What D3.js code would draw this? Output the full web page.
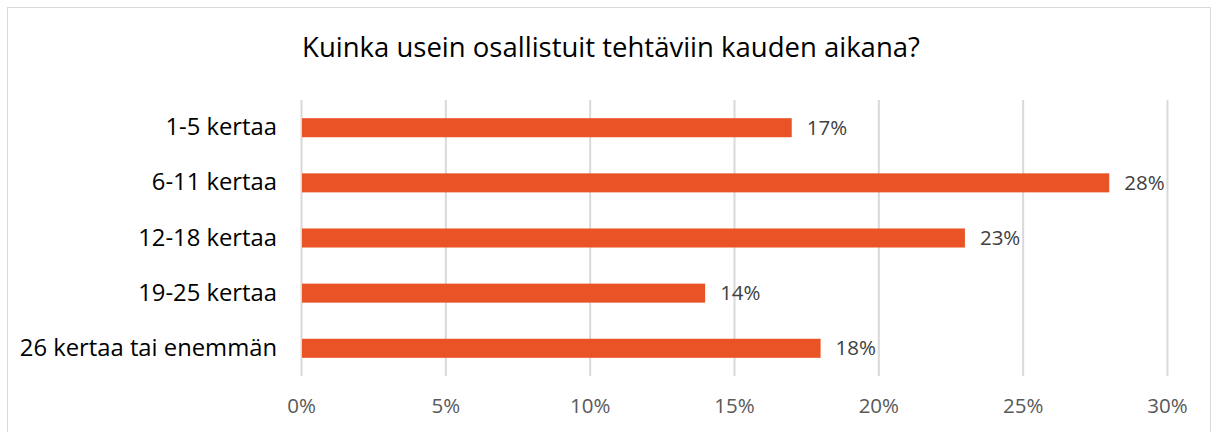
<!DOCTYPE html>
<html>
<head>
<meta charset="utf-8">
<script src="https://cdn.jsdelivr.net/npm/d3@7"></script>
<style>
  body { margin: 0; background: #fff; }
  svg { display: block; }
</style>
</head>
<body>
<div id="chart"></div>
<script>
// Chart data
const categories = ['1-5 kertaa', '6-11 kertaa', '12-18 kertaa', '19-25 kertaa', '26 kertaa tai enemmän'];
const values = [17, 28, 23, 14, 18];
const ticks = [0, 5, 10, 15, 20, 25, 30];
const title = 'Kuinka usein osallistuit tehtäviin kauden aikana?';

const width = 1213;
const height = 432;
const margin = { top: 100, right: 46, bottom: 56, left: 301 };

const svg = d3.select('#chart')
    .append('svg')
    .attr('width', width)
    .attr('height', height);

// outer chart border
svg.append('rect')
    .attr('x', 7.5)
    .attr('y', 7.5)
    .attr('width', width - 10)
    .attr('height', height)
    .attr('fill', 'none')
    .attr('stroke', '#d9d9d9');

svg.append('text')
    .attr('x', 611)
    .attr('y', 57)
    .attr('text-anchor', 'middle')
    .style('font-family', 'Open Sans, sans-serif')
    .style('font-size', '27.5px')
    .attr('fill', '#000')
    .text(title);

const xScale = d3.scaleLinear()
    .domain([0, 30])
    .range([margin.left, width - margin.right]);

const yScale = d3.scaleBand()
    .domain(categories)
    .range([margin.top, height - margin.bottom])
    .paddingInner(0.655)
    .paddingOuter(0.33);

// vertical gridlines
svg.append('g')
    .attr('class', 'gridlines')
    .selectAll('line')
    .data(ticks)
    .join('line')
    .attr('x1', (d) => xScale(d) + 0.5)
    .attr('x2', (d) => xScale(d) + 0.5)
    .attr('y1', margin.top)
    .attr('y2', height - margin.bottom)
    .attr('stroke', '#d9d9d9')
    .attr('stroke-width', 2);

// x axis tick labels
const xAxis = d3.axisBottom(xScale)
    .tickValues(ticks)
    .tickSize(0)
    .tickPadding(0)
    .tickFormat((d) => `${d}%`);

const xg = svg.append('g')
    .attr('transform', `translate(0, ${height - margin.bottom + 22})`)
    .call(xAxis);
xg.select('.domain').remove();
xg.selectAll('text')
    .style('font-family', 'Open Sans, sans-serif')
    .style('font-size', '20.5px')
    .attr('fill', '#595959');

// category labels
const yAxis = d3.axisLeft(yScale).tickSize(0).tickPadding(24);
const yg = svg.append('g')
    .attr('transform', `translate(${margin.left}, 0)`)
    .call(yAxis);
yg.select('.domain').remove();
yg.selectAll('text')
    .style('font-family', 'Open Sans, sans-serif')
    .style('font-size', '23.8px')
    .attr('fill', '#000');

// bars
svg.append('g')
    .selectAll('rect')
    .data(values)
    .join('rect')
    .attr('x', xScale(0) + 1)
    .attr('y', (d, i) => yScale(categories[i]))
    .attr('width', (d) => xScale(d) - xScale(0) - 1)
    .attr('height', yScale.bandwidth())
    .attr('fill', '#ea5326');

// data labels
svg.append('g')
    .selectAll('text')
    .data(values)
    .join('text')
    .attr('x', (d) => xScale(d) + 15)
    .attr('y', (d, i) => yScale(categories[i]) + yScale.bandwidth() / 2)
    .attr('dy', '0.35em')
    .style('font-family', 'Open Sans, sans-serif')
    .style('font-size', '20.5px')
    .attr('fill', '#404040')
    .text((d) => `${d}%`);
</script>
</body>
</html>
